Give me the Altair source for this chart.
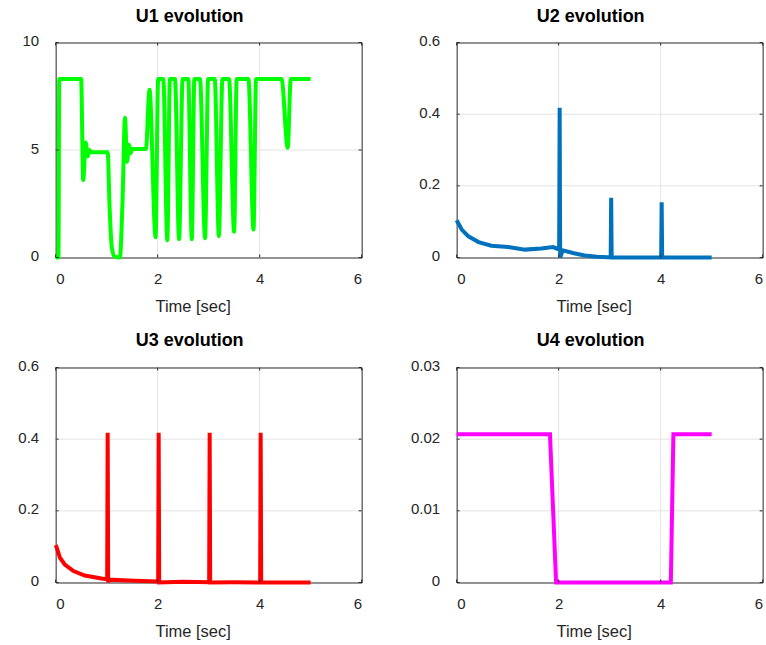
import altair as alt
import pandas as pd

# ---------------- data ----------------
u1_t = [0.00, 0.055, 0.07, 0.50, 0.54, 0.59, 0.63, 0.66, 0.70, 1.02, 1.06, 1.10, 1.15, 1.26,
        1.31, 1.36, 1.40, 1.44, 1.47, 1.50, 1.77, 1.84, 1.96, 2.01, 2.11, 2.19, 2.24, 2.34,
        2.42, 2.49, 2.60, 2.67, 2.72, 2.83, 2.93, 2.99, 3.12, 3.20, 3.27, 3.40, 3.50, 3.55,
        3.78, 3.88, 3.93, 4.43, 4.55, 4.61, 5.00]
u1_v = [0.0, 0.0, 8.3, 8.3, 3.6, 5.35, 4.7, 5.0, 4.9, 4.9, 2.2, 0.5, 0.05, 0.0,
        2.5, 6.5, 4.45, 5.25, 4.85, 5.05, 5.05, 7.8, 0.95, 8.3, 8.3, 0.8, 8.3, 8.3,
        0.85, 8.3, 8.3, 0.85, 8.3, 8.3, 0.9, 8.3, 8.3, 1.0, 8.3, 8.3, 1.2, 8.3,
        8.3, 1.3, 8.3, 8.3, 5.1, 8.3, 8.3]

u2_t = [0.00, 0.10, 0.23, 0.43, 0.68, 1.01, 1.34, 1.66, 1.89, 1.98, 2.01, 2.02, 2.03, 2.08,
        2.30, 2.51, 2.75, 2.96, 3.02, 3.03, 3.04, 3.50, 4.01, 4.02, 4.03, 4.50, 5.00]
u2_v = [0.104, 0.078, 0.059, 0.043, 0.033, 0.029, 0.022, 0.025, 0.029, 0.024, 0.024, 0.418, 0.0, 0.020,
        0.012, 0.0056, 0.002, 0.001, 0.001, 0.167, 0.0, 0.0, 0.0, 0.154, 0.0, 0.0, 0.0]

u3_t = [0.00, 0.02, 0.085, 0.18, 0.35, 0.57, 0.90, 1.01, 1.02, 1.03, 1.04, 1.55, 2.01, 2.02, 2.03,
        2.50, 3.01, 3.02, 3.03, 3.50, 4.01, 4.02, 4.03, 5.00]
u3_v = [0.104, 0.098, 0.069, 0.050, 0.032, 0.0195, 0.011, 0.009, 0.418, 0.0, 0.008, 0.005, 0.003, 0.418, 0.0,
        0.002, 0.001, 0.418, 0.0, 0.0005, 0.0, 0.418, 0.0, 0.0]

u4_t = [0.00, 1.83, 1.95, 4.20, 4.25, 5.00]
u4_v = [0.0207, 0.0207, 0.0, 0.0, 0.0207, 0.0207]

x_ticks = [0, 2, 4, 6]
u1_ticks = [0, 5, 10]
u23_ticks = [0, 0.2, 0.4, 0.6]
u4_ticks = [0, 0.01, 0.02, 0.03]

titles = ["U1 evolution", "U2 evolution", "U3 evolution", "U4 evolution"]
colors = ["#00ff00", "#0072bd", "#ff0000", "#ff00ff"]

# ---------------- style ----------------
W, H = 306, 215
FONT = "Liberation Sans"
TXT = "#262626"
GRID = "#e3e3e3"
TK = 3


def panel(t, v, color, title, yticks, interp):
    df = pd.DataFrame({"t": t, "v": v})
    xs = alt.Scale(domain=[0, 6], nice=False, zero=False)
    ys = alt.Scale(domain=[yticks[0], yticks[-1]], nice=False, zero=False)
    xaxis = alt.Axis(values=x_ticks, format="d", title="Time [sec]", grid=False, ticks=False,
                     domain=False, labelPadding=14, titlePadding=12, titleX=137,
                     labelFontSize=15, titleFontSize=16.5, titleFontWeight="normal",
                     labelFont=FONT, titleFont=FONT, labelColor=TXT, titleColor=TXT)
    yaxis = alt.Axis(values=yticks, format="~r", title=None, grid=False, ticks=False,
                     domain=False, labelPadding=17, labelOffset=-2,
                     labelFontSize=15, labelFont=FONT, labelColor=TXT)
    X = lambda: alt.X("t:Q", scale=xs, axis=xaxis)
    Y = lambda: alt.Y("v:Q", scale=ys, axis=yaxis)
    xt = pd.DataFrame({"t": x_ticks})
    yt = pd.DataFrame({"v": yticks})
    xin = pd.DataFrame({"t": x_ticks[1:-1]})
    yin = pd.DataFrame({"v": yticks[1:-1]})

    gx = alt.Chart(xin).mark_rule(color=GRID, strokeWidth=1).encode(
        x=X(), y=alt.value(0), y2=alt.value(H))
    gy = alt.Chart(yin).mark_rule(color=GRID, strokeWidth=1).encode(
        y=Y(), x=alt.value(0), x2=alt.value(W))
    line = alt.Chart(df).mark_line(color=color, strokeWidth=4, interpolate=interp).encode(
        x=X(), y=Y())
    bottom = alt.Chart(xt).mark_rule(color=TXT, strokeWidth=1).encode(
        x=X(), y=alt.value(H), y2=alt.value(H - TK))
    top = alt.Chart(xt).mark_rule(color=TXT, strokeWidth=1).encode(
        x=X(), y=alt.value(0), y2=alt.value(TK))
    left = alt.Chart(yt).mark_rule(color=TXT, strokeWidth=1).encode(
        y=Y(), x=alt.value(0), x2=alt.value(TK))
    right = alt.Chart(yt).mark_rule(color=TXT, strokeWidth=1).encode(
        y=Y(), x=alt.value(W), x2=alt.value(W - TK))
    return alt.layer(gx, gy, line, bottom, top, left, right).properties(
        width=W, height=H,
        title=alt.TitleParams(title, fontSize=18, fontWeight="bold", font=FONT, color="#000000",
                              dx=-19, offset=-6, baseline="alphabetic", anchor="middle"),
    )


p1 = panel(u1_t, u1_v, colors[0], titles[0], u1_ticks, "monotone")
p2 = panel(u2_t, u2_v, colors[1], titles[1], u23_ticks, "linear")
p3 = panel(u3_t, u3_v, colors[2], titles[2], u23_ticks, "linear")
p4 = panel(u4_t, u4_v, colors[3], titles[3], u4_ticks, "linear")

chart = alt.concat(p1, p2, p3, p4, columns=2, spacing={"row": 110, "column": 95}, bounds="flush").properties(
    padding={"left": 16.65, "top": 6.5, "right": 0, "bottom": 0},
    background="white",
).configure_view(
    stroke=TXT, strokeWidth=1
)

chart.save("out.html", embed_options={"renderer": "svg", "actions": False})
